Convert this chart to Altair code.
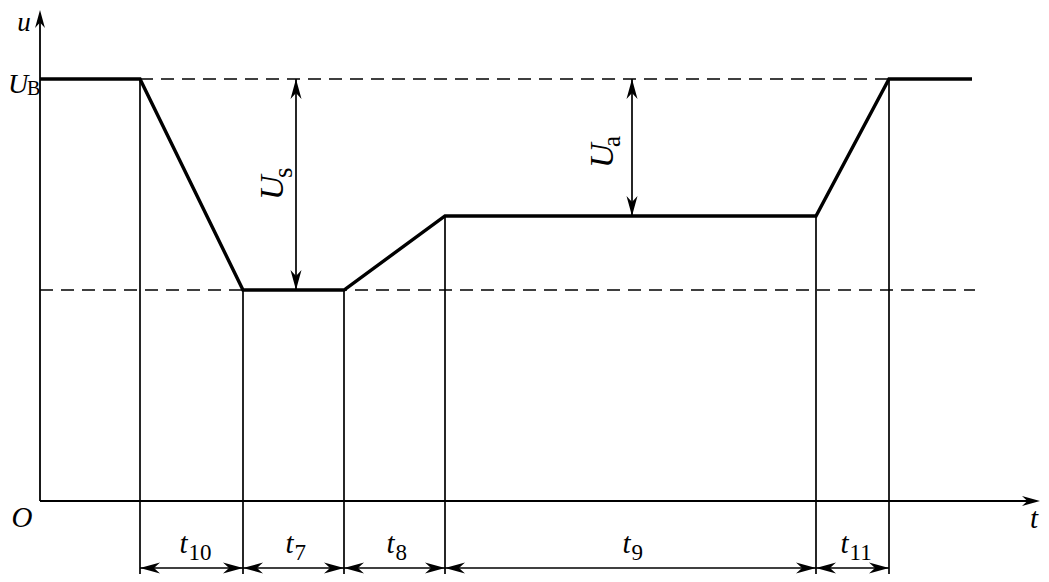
import altair as alt
import pandas as pd

# ---------------- data (schematic units: t along x, u along y) ----------------
t_break = [0, 100, 203, 304, 405, 776, 849, 932]          # break points of u(t)
u_curve = [422, 422, 211, 211, 285, 285, 422, 422]        # u at the break points
interval_subs = ["10", "7", "8", "9", "11"]               # t10, t7, t8, t9, t11
U_B = 422
U_low = 211
U_mid = 285

# ---------------- layout constants ----------------
W, H = 1033, 566
XS = alt.Scale(domain=[-32, 1001], nice=False, zero=False)
YS = alt.Scale(domain=[-73, 493], nice=False, zero=False)
x_axis_end = 1000
y_axis_end = 491
dash_end = 935
dim_level = -67
bottom = -80
us_pos = 256
ua_pos = 592
ARROW = "M0,0 L-2,-0.55 L-1.4,0 L-2,0.55 Z"
FONT = "Liberation Serif, Times New Roman, serif"


def X(f="x"):
    return alt.X(f"{f}:Q", scale=XS, axis=None)


def Y(f="y"):
    return alt.Y(f"{f}:Q", scale=YS, axis=None)


def rules(rows, width, dash=None):
    df = pd.DataFrame(rows, columns=["x", "y", "x2", "y2"])
    kw = dict(color="black", strokeWidth=width)
    if dash:
        kw["strokeDash"] = dash
    return alt.Chart(df).mark_rule(**kw).encode(
        x=X(), y=Y(), x2=alt.X2("x2:Q"), y2=alt.Y2("y2:Q")
    )


def text_layer(rows, size, italic, align="left", angle=0):
    df = pd.DataFrame(rows, columns=["x", "y", "label"])
    kw = dict(font=FONT, fontSize=size, align=align, baseline="alphabetic",
              color="black", angle=angle)
    if italic:
        kw["fontStyle"] = "italic"
    return alt.Chart(df).mark_text(**kw).encode(x=X(), y=Y(), text="label:N")


# axes
axes = rules([[0, 0, x_axis_end - 6, 0], [0, 0, 0, y_axis_end - 6]], 1.8)

# waveform
curve_df = pd.DataFrame({"x": t_break, "y": u_curve, "o": range(len(t_break))})
curve = alt.Chart(curve_df).mark_line(color="black", strokeWidth=3.4).encode(
    x=X(), y=Y(), order="o:Q"
)

# dashed reference levels
dashes = rules([[t_break[1], U_B, t_break[6], U_B], [0, U_low, dash_end, U_low]],
               1.6, dash=[13, 8])

# vertical projection lines
verts = rules([[t_break[k], u_curve[k], t_break[k], bottom] for k in range(1, 7)], 1.7)

# horizontal dimension lines
dims = rules([[t_break[k], dim_level, t_break[k + 1], dim_level] for k in range(1, 6)], 1.7)

# U_s and U_a dimension lines
udims = rules([[us_pos, U_B, us_pos, U_low], [ua_pos, U_B, ua_pos, U_mid]], 1.7)

# arrow heads
heads = []
for k in range(1, 6):
    heads.append([t_break[k], dim_level, 180, 400])
    heads.append([t_break[k + 1], dim_level, 0, 400])
heads += [[us_pos, U_B, 270, 400], [us_pos, U_low, 90, 400],
          [ua_pos, U_B, 270, 400], [ua_pos, U_mid, 90, 400],
          [x_axis_end, 0, 0, 324], [0, y_axis_end, 270, 324]]
heads_df = pd.DataFrame(heads, columns=["x", "y", "a", "s"])
arrowheads = alt.Chart(heads_df).mark_point(
    shape=ARROW, filled=True, color="black", opacity=1, strokeWidth=0
).encode(x=X(), y=Y(), angle=alt.Angle("a:Q", scale=None),
         size=alt.Size("s:Q", scale=None))

# interval labels t_i
t_main, t_sub = [], []
for k, sub in enumerate(interval_subs):
    mid = (t_break[k + 1] + t_break[k + 2]) / 2
    split = mid - 4 * (len(sub) - 1)
    t_main.append([split, -52, "t"])
    t_sub.append([split + 1, -59, sub])
labels_t = text_layer(t_main, 29, True, align="right")
labels_sub = text_layer(t_sub, 23, False, align="left")

# axis labels
axis_lbl = [
    text_layer([[-16, 470, "u"]], 27, True, align="center"),
    text_layer([[-18, -26, "O"]], 29, True, align="center"),
    text_layer([[994, -27, "t"]], 29, True, align="center"),
    text_layer([[-32, 408, "U"]], 28, True),
    text_layer([[-13, 406, "B"]], 20, False),
]

# rotated U_s, U_a labels
rot = [
    text_layer([[243, 301, "U"]], 34, True, angle=270),
    text_layer([[252, 323, "s"]], 27, False, angle=270),
    text_layer([[573, 333, "U"]], 34, True, angle=270),
    text_layer([[580, 354, "a"]], 25, False, angle=270),
]

chart = alt.layer(
    dashes, verts, dims, udims, axes, curve, arrowheads, labels_t, labels_sub,
    *axis_lbl, *rot
).properties(
    width=W, height=H, padding=0, autosize=alt.AutoSizeParams(type="none"),
    background="white"
).configure_view(stroke=None)

chart.save("out.html", embed_options={"renderer": "svg", "actions": False})
